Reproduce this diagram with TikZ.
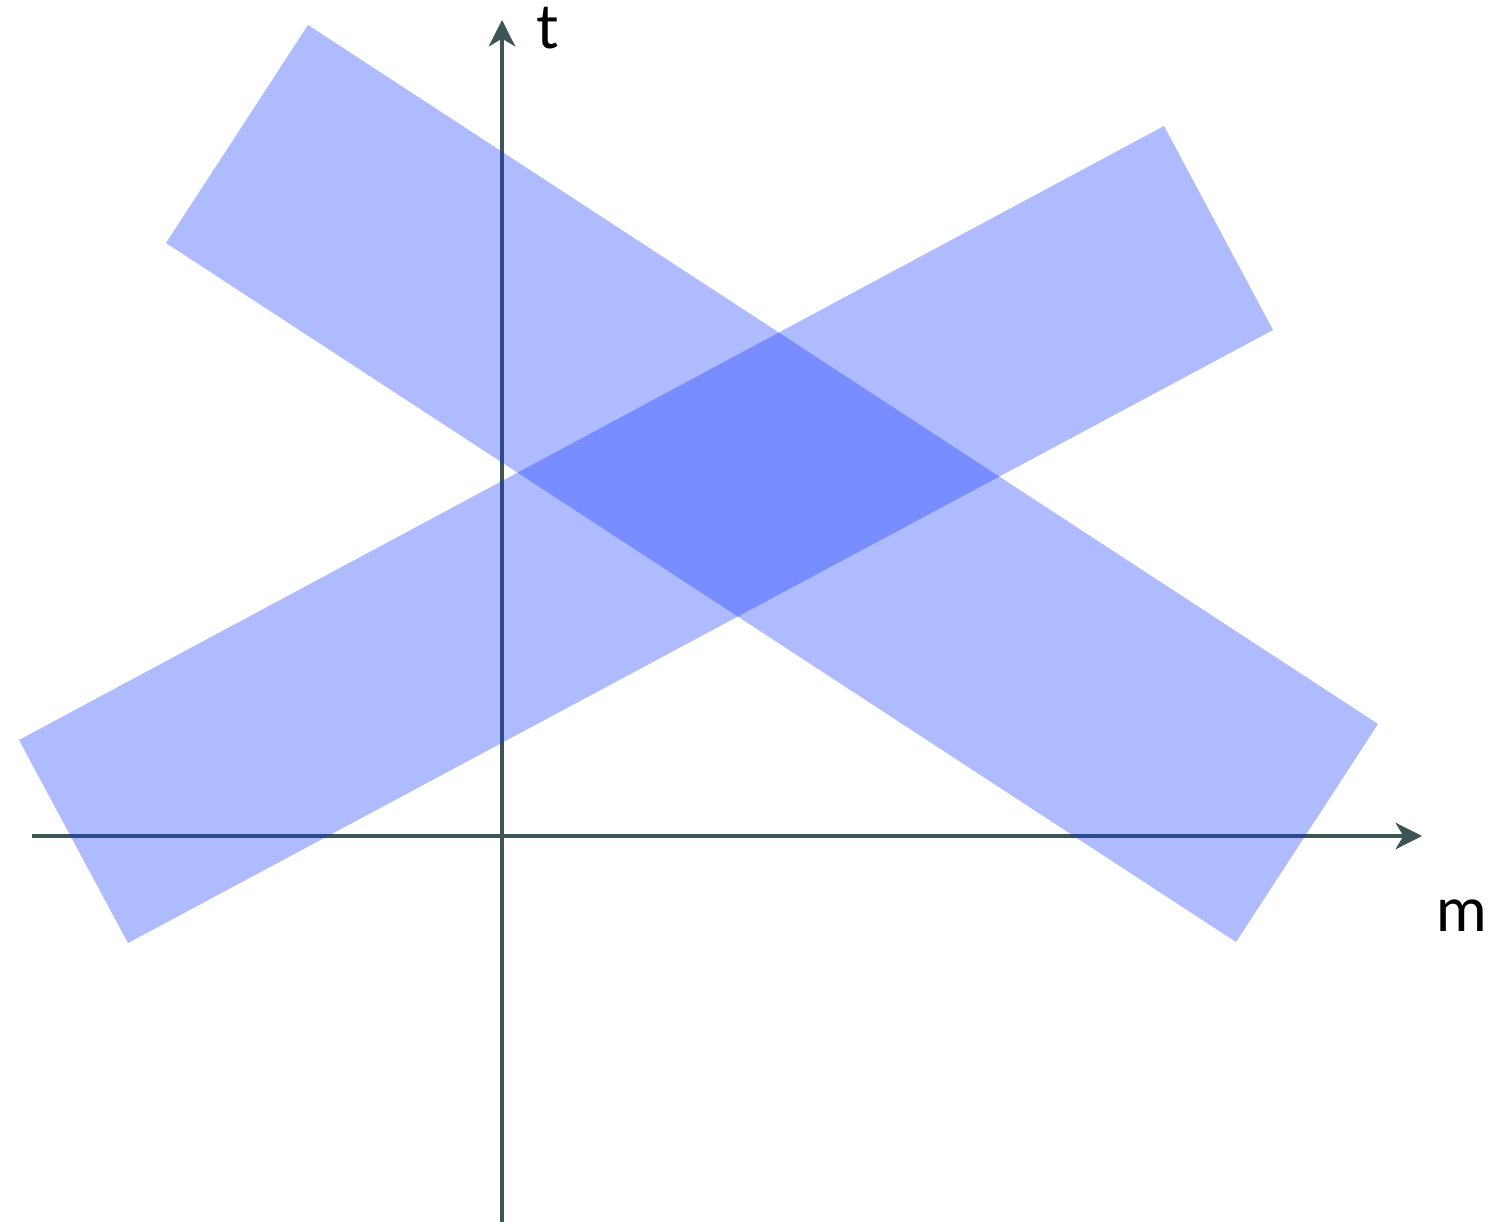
\documentclass[tikz,border=0pt]{standalone}
\usepackage{fontspec}
\setmainfont{Lato}
\usetikzlibrary{arrows.meta}

\definecolor{axisgray}{RGB}{61,85,85}
\definecolor{bandblue}{RGB}{12,51,255}

\begin{document}
\begin{tikzpicture}[
    x=0.01cm, y=-0.01cm,
    >={Stealth[length=7.5pt,width=7.5pt,inset=2.2pt]},
    line join=round,
    font=\fontsize{17.5}{21}\selectfont
]

% ======================================
% 画布范围
% ======================================
\useasboundingbox (0,0) rectangle (1507,1222);

% ======================================
% 坐标轴（先画，带子盖在上面）
% ======================================
\coordinate (O) at (502,836);
\coordinate (Xstart) at (32,836);
\coordinate (Xend) at (1422,836);
\coordinate (Ystart) at (502,1222);
\coordinate (Yend) at (502,20);

\draw[->, axisgray, line width=1.2pt] (Xstart) -- (Xend);
\draw[->, axisgray, line width=1.2pt] (Ystart) -- (Yend);

\node (mlab) at (1462,916) {m};
\node (tlab) at (548,28) {t};

% ======================================
% 两条半透明带子
% ======================================
% 下降的带子
\fill[bandblue, fill opacity=0.333]
    (308,25) -- (166,243) -- (1236,942) -- (1378,724) -- cycle;

% 上升的带子
\fill[bandblue, fill opacity=0.333]
    (19,740) -- (128,943) -- (1273,330) -- (1164,126) -- cycle;

\end{tikzpicture}
\end{document}
